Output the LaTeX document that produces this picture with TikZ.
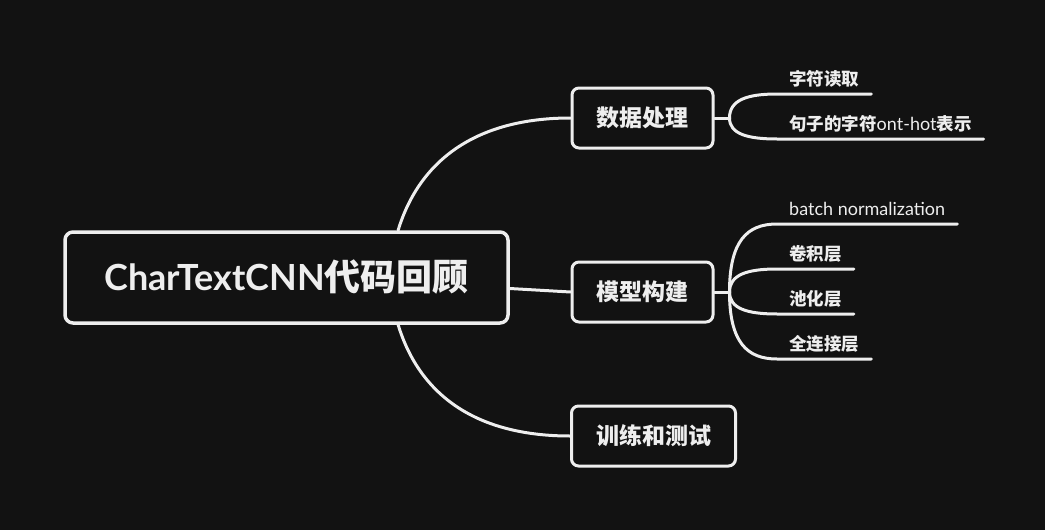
\documentclass[tikz,border=0pt]{standalone}
\usepackage{fontspec}
\setmainfont{Lato}
\newfontfamily\cjk{Noto Sans CJK SC}
\usetikzlibrary{calc}
\definecolor{bg}{HTML}{121212}
\definecolor{fg}{HTML}{EEEEEE}
\tikzset{
  rootbox/.style={draw=fg,line width=3.5pt,rounded corners=8pt,text=fg,
    minimum width=443pt,minimum height=91pt,font=\bfseries\fontsize{36}{42}\selectfont},
  topicbox/.style={draw=fg,line width=3pt,rounded corners=7pt,text=fg,
    minimum height=60pt,inner xsep=24.5pt,font=\bfseries\fontsize{23}{27}\selectfont},
  leafnode/.style={anchor=south west,inner xsep=12pt,inner ysep=8pt,text depth=0pt,
    text=fg,font=\bfseries\fontsize{17.5}{21}\selectfont},
  branch/.style={draw=fg,line width=3pt,line cap=round}
}
\newcommand\lat[1]{{\mdseries\fontsize{18}{21}\selectfont #1}}
\begin{document}
\begin{tikzpicture}[x=1pt,y=1pt,line join=round]
\fill[bg] (0,0) rectangle (1045,-530);
\useasboundingbox (0,0) rectangle (1045,-530);
% root and main topics
\node[rootbox] (root) at (286.5,-277.5) {CharTextCNN{\cjk 代码回顾}};
\node[topicbox] (data) at (642.5,-118) {\cjk 数据处理};
\node[topicbox] (model) at (642.5,-292) {\cjk 模型构建};
\node[topicbox] (train) at (653.5,-436) {\cjk 训练和测试};
% branches from the root
\coordinate (rtop) at ($(root.north west)!0.75!(root.north east)$);
\coordinate (rbot) at ($(root.south west)!0.75!(root.south east)$);
\draw[branch] (rtop) .. controls +(22,72) and +(-92,0) .. (data.west);
\draw[branch] ($(root.east)+(0,-11)$) -- (model.west);
\draw[branch] (rbot) .. controls +(22,-72) and +(-92,0) .. (train.west);
% leaves
\coordinate (dfork) at ($(data.east)+(15,0)$);
\coordinate (mfork) at ($(model.east)+(15,0)$);
\draw[branch] (data.east) -- (dfork);
\draw[branch] (model.east) -- (mfork);
\foreach \nm/\fk/\yy/\txt in {
  d1/dfork/94/{\cjk 字符读取},
  d2/dfork/139/{{\cjk 句子的字符}\lat{ont-hot}{\cjk 表示}},
  m1/mfork/224/{\lat{batch normalization}},
  m2/mfork/269/{\cjk 卷积层},
  m3/mfork/314/{\cjk 池化层},
  m4/mfork/359/{\cjk 全连接层}}{
  \node[leafnode] (\nm) at (777,-\yy) {\txt};
  \draw[branch] (\fk) .. controls ($(\fk)!0.75!(\fk |- \nm.south west)$)
    and ($(\nm.south west)+(-30,0)$) .. (\nm.south west) -- (\nm.south east);
}
\end{tikzpicture}
\end{document}
